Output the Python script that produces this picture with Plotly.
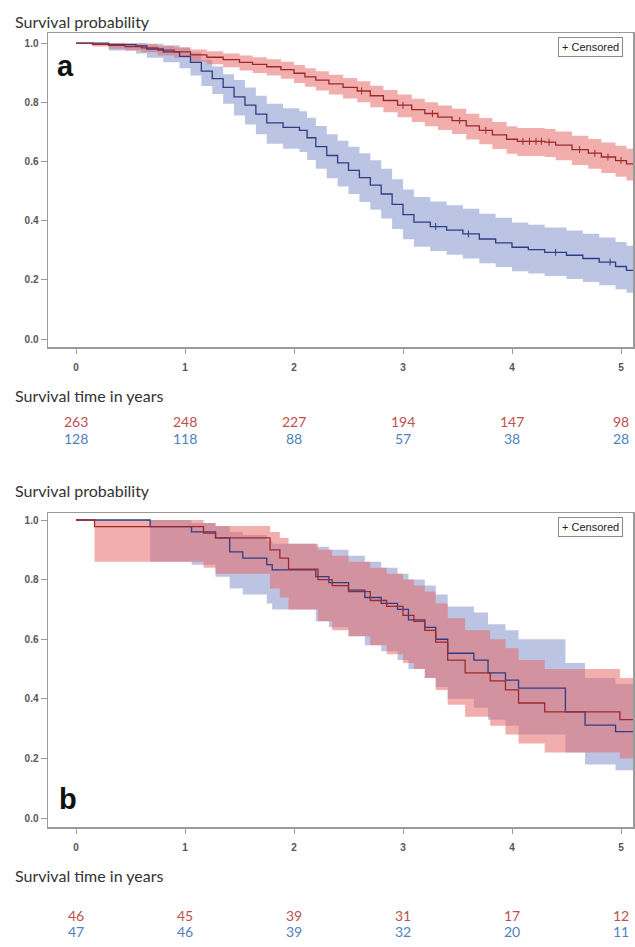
import bisect
import plotly.graph_objects as go

W, H = 635, 947

# ---------------- Panel a data ----------------
tA_red = [0, 0.15, 0.3, 0.45, 0.6, 0.75, 0.9, 1.05, 1.2, 1.35, 1.5, 1.62, 1.75, 1.88, 2.0, 2.1, 2.2, 2.32, 2.45, 2.58,
          2.7, 2.82, 2.95, 3.08, 3.2, 3.32, 3.45, 3.58, 3.7, 3.82, 3.95, 4.05, 4.3, 4.4, 4.55, 4.7, 4.82, 4.95, 5.05, 5.12]
sA_red = [1.0, 0.996, 0.992, 0.988, 0.984, 0.976, 0.97, 0.96, 0.952, 0.944, 0.935, 0.928, 0.92, 0.91, 0.898, 0.886, 0.875, 0.862, 0.85, 0.838,
          0.822, 0.806, 0.79, 0.775, 0.762, 0.75, 0.738, 0.72, 0.705, 0.69, 0.675, 0.668, 0.665, 0.655, 0.64, 0.628, 0.615, 0.603, 0.592, 0.585]
hiA_red = [1.0, 1.0, 1.0, 0.998, 0.996, 0.99, 0.986, 0.978, 0.972, 0.965, 0.958, 0.952, 0.945, 0.937, 0.926, 0.915, 0.905, 0.893, 0.882, 0.871,
           0.856, 0.841, 0.826, 0.812, 0.8, 0.789, 0.778, 0.761, 0.747, 0.733, 0.719, 0.713, 0.71, 0.701, 0.687, 0.676, 0.664, 0.653, 0.643, 0.637]
loA_red = [1.0, 0.988, 0.981, 0.975, 0.969, 0.958, 0.95, 0.938, 0.928, 0.918, 0.907, 0.899, 0.89, 0.879, 0.865, 0.852, 0.84, 0.826, 0.813, 0.8,
           0.783, 0.766, 0.749, 0.733, 0.719, 0.706, 0.693, 0.674, 0.658, 0.642, 0.626, 0.618, 0.615, 0.604, 0.588, 0.575, 0.561, 0.548, 0.536, 0.528]
censA_red = [2.62, 3.0, 3.27, 3.52, 3.76, 4.1, 4.16, 4.22, 4.27, 4.34, 4.62, 4.76, 4.88, 5.0]

tA_blue = [0, 0.3, 0.55, 0.65, 0.8, 0.95, 1.05, 1.15, 1.25, 1.35, 1.45, 1.55, 1.65, 1.75, 1.9, 2.05, 2.12, 2.2, 2.3, 2.4,
           2.5, 2.6, 2.7, 2.8, 2.9, 3.0, 3.1, 3.25, 3.4, 3.55, 3.7, 3.85, 4.0, 4.15, 4.3, 4.5, 4.65, 4.8, 4.95, 5.05, 5.12]
sA_blue = [1.0, 0.995, 0.99, 0.98, 0.97, 0.955, 0.935, 0.905, 0.88, 0.85, 0.818, 0.79, 0.76, 0.73, 0.715, 0.705, 0.68, 0.65, 0.62, 0.595,
           0.57, 0.545, 0.52, 0.49, 0.455, 0.42, 0.395, 0.38, 0.368, 0.355, 0.338, 0.325, 0.31, 0.302, 0.293, 0.283, 0.272, 0.26, 0.245, 0.232, 0.225]
hiA_blue = [1.0, 1.0, 1.0, 0.998, 0.993, 0.984, 0.968, 0.944, 0.921, 0.895, 0.875, 0.85, 0.822, 0.795, 0.78, 0.77, 0.748, 0.72, 0.692, 0.67,
            0.65, 0.628, 0.604, 0.575, 0.54, 0.505, 0.48, 0.465, 0.452, 0.44, 0.423, 0.41, 0.394, 0.386, 0.377, 0.367, 0.356, 0.343, 0.328, 0.315, 0.308]
loA_blue = [1.0, 0.975, 0.965, 0.95, 0.935, 0.915, 0.89, 0.855, 0.828, 0.795, 0.755, 0.725, 0.692, 0.66, 0.643, 0.632, 0.605, 0.575, 0.543, 0.515,
            0.49, 0.463, 0.437, 0.407, 0.372, 0.337, 0.312, 0.297, 0.285, 0.272, 0.256, 0.243, 0.229, 0.221, 0.213, 0.203, 0.193, 0.182, 0.168, 0.156, 0.15]
censA_blue = [3.3, 3.6, 4.4, 4.9]

# ---------------- Panel b data ----------------
tB_red = [0, 0.17, 1.17, 1.28, 1.78, 1.87, 1.95, 2.22, 2.35, 2.5, 2.7, 2.85, 3.0, 3.1, 3.2, 3.3, 3.41, 3.57, 3.8, 3.94, 4.06, 4.3, 4.99, 5.12]
sB_red = [1.0, 0.978, 0.956, 0.94, 0.9, 0.872, 0.835, 0.8, 0.78, 0.76, 0.73, 0.71, 0.68, 0.66, 0.63, 0.59, 0.53, 0.487, 0.46, 0.43, 0.386, 0.356, 0.33, 0.33]
loB_red = [1.0, 0.86, 0.84, 0.82, 0.77, 0.74, 0.7, 0.66, 0.63, 0.61, 0.58, 0.55, 0.52, 0.5, 0.47, 0.43, 0.38, 0.34, 0.31, 0.28, 0.25, 0.22, 0.2, 0.2]
hiB_red = [1.0, 1.0, 0.99, 0.98, 0.96, 0.94, 0.92, 0.9, 0.88, 0.86, 0.84, 0.82, 0.8, 0.78, 0.76, 0.72, 0.67, 0.63, 0.6, 0.57, 0.53, 0.5, 0.47, 0.47]

tB_blue = [0, 0.68, 1.06, 1.28, 1.41, 1.53, 1.75, 1.8, 2.2, 2.32, 2.5, 2.65, 2.8, 2.95, 3.05, 3.2, 3.3, 3.41, 3.65, 3.78, 3.94, 4.06, 4.49, 4.67, 4.95, 5.12]
sB_blue = [1.0, 0.978, 0.96, 0.94, 0.893, 0.872, 0.85, 0.833, 0.81, 0.79, 0.765, 0.74, 0.72, 0.7, 0.665, 0.64, 0.6, 0.553, 0.53, 0.487, 0.463, 0.436, 0.356, 0.312, 0.29, 0.29]
loB_blue = [1.0, 0.86, 0.85, 0.81, 0.77, 0.75, 0.72, 0.7, 0.66, 0.64, 0.61, 0.58, 0.56, 0.53, 0.5, 0.47, 0.44, 0.4, 0.37, 0.33, 0.31, 0.28, 0.22, 0.18, 0.16, 0.16]
hiB_blue = [1.0, 1.0, 0.99, 0.98, 0.96, 0.95, 0.93, 0.92, 0.91, 0.9, 0.88, 0.86, 0.84, 0.82, 0.8, 0.78, 0.75, 0.71, 0.69, 0.65, 0.63, 0.6, 0.52, 0.47, 0.45, 0.45]

# ---------------- Number at risk ----------------
risk_times = [0, 1, 2, 3, 4, 5]
riskA_red = [263, 248, 227, 194, 147, 98]
riskA_blue = [128, 118, 88, 57, 38, 28]
riskB_red = [46, 45, 39, 31, 17, 12]
riskB_blue = [47, 46, 39, 32, 20, 11]

x_ticks = [0, 1, 2, 3, 4, 5]
y_ticks = [0.0, 0.2, 0.4, 0.6, 0.8, 1.0]

RED_LINE = "#9c2a2c"
BLUE_LINE = "#2f3d86"
RED_FILL = "rgba(232,106,106,0.55)"
BLUE_FILL = "rgba(120,138,200,0.5)"
RED_TXT = "#c0504d"
BLUE_TXT = "#4f81bd"
AXIS = "#9a9a9a"


def py(y):
    return 1 - y / H


def px(x):
    return x / W


def step_value(t_list, s_list, t):
    i = bisect.bisect_right(t_list, t) - 1
    return s_list[max(i, 0)]


fig = go.Figure()


def add_band(t, lo, hi, fill, xa, ya):
    fig.add_trace(go.Scatter(x=t, y=lo, mode="lines", line=dict(width=0, shape="hv"),
                             xaxis=xa, yaxis=ya, showlegend=False, hoverinfo="skip"))
    fig.add_trace(go.Scatter(x=t, y=hi, mode="lines", line=dict(width=0, shape="hv"),
                             fill="tonexty", fillcolor=fill,
                             xaxis=xa, yaxis=ya, showlegend=False, hoverinfo="skip"))


def add_line(t, s, color, xa, ya):
    fig.add_trace(go.Scatter(x=t, y=s, mode="lines", line=dict(width=1.3, shape="hv", color=color),
                             xaxis=xa, yaxis=ya, showlegend=False))


def add_cens(times, t, s, color, xa, ya):
    fig.add_trace(go.Scatter(x=times, y=[step_value(t, s, c) for c in times], mode="markers",
                             marker=dict(symbol="line-ns", size=5, line=dict(width=1, color=color)),
                             xaxis=xa, yaxis=ya, showlegend=False, hoverinfo="skip"))


# panel a
add_band(tA_blue, loA_blue, hiA_blue, BLUE_FILL, "x", "y")
add_band(tA_red, loA_red, hiA_red, RED_FILL, "x", "y")
add_line(tA_blue, sA_blue, BLUE_LINE, "x", "y")
add_line(tA_red, sA_red, RED_LINE, "x", "y")
add_cens(censA_blue, tA_blue, sA_blue, BLUE_LINE, "x", "y")
add_cens(censA_red, tA_red, sA_red, RED_LINE, "x", "y")

# panel b
add_band(tB_blue, loB_blue, hiB_blue, BLUE_FILL, "x2", "y2")
add_band(tB_red, loB_red, hiB_red, RED_FILL, "x2", "y2")
add_line(tB_blue, sB_blue, BLUE_LINE, "x2", "y2")
add_line(tB_red, sB_red, RED_LINE, "x2", "y2")

tickfont = dict(family="Liberation Sans", size=10, color="#555555", weight="bold")
xcommon = dict(range=[-0.257, 5.11], tickvals=x_ticks, ticktext=[str(v) for v in x_ticks],
               showline=True, mirror=True, linecolor=AXIS, linewidth=1.5,
               ticks="outside", ticklen=5, tickcolor=AXIS, showgrid=False, zeroline=False,
               tickfont=tickfont, ticklabelstandoff=5, domain=[px(48), px(633)])
ycommon = dict(tickvals=y_ticks, tickformat=".1f",
               showline=True, mirror=True, linecolor=AXIS, linewidth=1.5,
               ticks="outside", ticklen=6, tickcolor=AXIS, showgrid=False, zeroline=False,
               tickfont=tickfont)

fig.update_layout(
    width=W, height=H,
    margin=dict(l=0, r=0, t=0, b=0),
    paper_bgcolor="white", plot_bgcolor="white",
    showlegend=False,
    hovermode=False,
    xaxis=dict(**xcommon, anchor="y"),
    yaxis=dict(**ycommon, range=[-0.027, 1.034], domain=[py(347), py(33)], anchor="x"),
    xaxis2=dict(**xcommon, anchor="y2"),
    yaxis2=dict(**ycommon, range=[-0.030, 1.0235], domain=[py(827), py(513)], anchor="x2"),
)

label_font = dict(family="Lato", size=16, color="#333333")
ann = []
for y_title, y_xlab in [(21, 395), (490, 875)]:
    ann.append(dict(text="Survival probability", x=px(13), y=py(y_title), xref="paper", yref="paper",
                    xanchor="left", yanchor="middle", showarrow=False, font=label_font))
    ann.append(dict(text="Survival time in years", x=px(13), y=py(y_xlab), xref="paper", yref="paper",
                    xanchor="left", yanchor="middle", showarrow=False, font=label_font))

ann.append(dict(text="<b>a</b>", x=px(65), y=py(66), xref="paper", yref="paper", xanchor="center",
                yanchor="middle", showarrow=False, font=dict(family="Liberation Sans", size=29, color="#111111")))
ann.append(dict(text="<b>b</b>", x=px(68), y=py(799), xref="paper", yref="paper", xanchor="center",
                yanchor="middle", showarrow=False, font=dict(family="Liberation Sans", size=29, color="#111111")))

for yc in [47, 527]:
    ann.append(dict(text="+ Censored", x=px(590), y=py(yc), xref="paper", yref="paper", xanchor="center",
                    yanchor="middle", showarrow=False, bgcolor="white", bordercolor="#8a8a8a", borderwidth=1,
                    borderpad=3, font=dict(family="Liberation Sans", size=11, color="#222222")))

num_font = 14
for xref, rows in [("x", [(riskA_red, RED_TXT, 422), (riskA_blue, BLUE_TXT, 438)]),
                   ("x2", [(riskB_red, RED_TXT, 915), (riskB_blue, BLUE_TXT, 931)])]:
    for vals, col, ypix in rows:
        for t, v in zip(risk_times, vals):
            ann.append(dict(text=str(v), x=t, y=py(ypix), xref=xref, yref="paper", xanchor="center",
                            yanchor="middle", showarrow=False,
                            font=dict(family="Lato", size=num_font, color=col)))

fig.update_layout(annotations=ann)
fig.write_html("out.html", config={"displayModeBar": False, "staticPlot": True},
               post_script="document.body.style.margin='0';document.body.style.overflow='hidden';")
